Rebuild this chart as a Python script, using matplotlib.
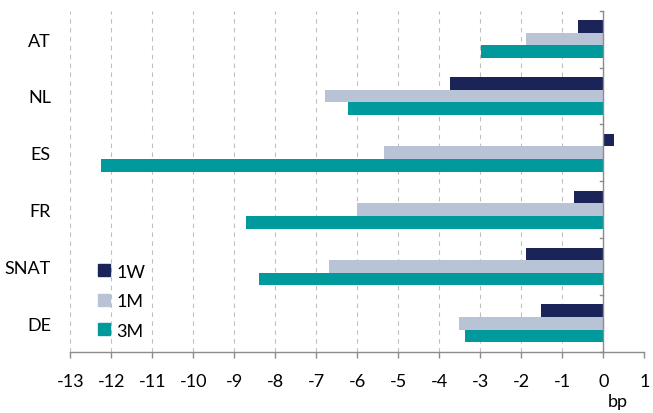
import numpy as np
import matplotlib.pyplot as plt
from matplotlib.patches import Patch

# Dados do grafico (bp)
categorias = ['AT', 'NL', 'ES', 'FR', 'SNAT', 'DE']
serie_1w = [-0.61, -3.74, 0.27, -0.72, -1.89, -1.51]
serie_1m = [-1.89, -6.78, -5.35, -6.02, -6.68, -3.51]
serie_3m = [-2.99, -6.22, -12.25, -8.72, -8.39, -3.37]
nomes = ['1W', '1M', '3M']
cores = ['#1B2459', '#B8C4D6', '#00999C']
xticks = list(range(-13, 2))

plt.rcParams['font.family'] = ['Lato', 'DejaVu Sans']

fig = plt.figure(figsize=(6.53, 4.14), dpi=100)
ax = fig.add_axes([0.1077, 0.148, 0.879, 0.8237])

y = np.arange(len(categorias))
h = 0.222
for k, (vals, cor) in enumerate(zip([serie_1w, serie_1m, serie_3m], cores)):
    ax.barh(y + (k - 1) * h, vals, height=h, color=cor, zorder=3)

ax.set_xlim(-13, 1)
ax.set_ylim(len(categorias) - 0.5, -0.5)

# grade vertical tracejada
for x in xticks:
    ax.axvline(x, color='#BFBFBF', lw=0.8, ls=(0, (4, 4)), zorder=1)

# eixo vertical em zero com pequenas marcas
ax.axvline(0, color='#8C8C8C', lw=1.0, zorder=4)
for b in np.arange(-0.5, len(categorias), 1.0):
    ax.plot([-0.09, 0], [b, b], color='#8C8C8C', lw=1.0, zorder=4, clip_on=False)

for s in ['top', 'right', 'left']:
    ax.spines[s].set_visible(False)
ax.spines['bottom'].set_color('#8C8C8C')
ax.spines['bottom'].set_linewidth(1.0)

ax.set_xticks(xticks)
ax.set_xticklabels([str(v) for v in xticks])
ax.tick_params(axis='x', direction='out', length=4, width=1.0, color='#8C8C8C',
               labelsize=13, pad=11, labelcolor='black')
ax.set_yticks(y)
ax.set_yticklabels(categorias)
ax.tick_params(axis='y', length=0, labelsize=13, pad=14)

ax.text(0.35, -0.145, 'bp', transform=ax.get_xaxis_transform(), fontsize=13,
        ha='center', va='center')

handles = [Patch(color=c) for c in cores]
ax.legend(handles, nomes, loc='lower left', bbox_to_anchor=(0.033, 0.012),
          frameon=False, fontsize=13, handlelength=0.65, handleheight=0.65,
          handletextpad=0.35, labelspacing=0.75, borderpad=0)

plt.savefig('out.png', dpi=100)
